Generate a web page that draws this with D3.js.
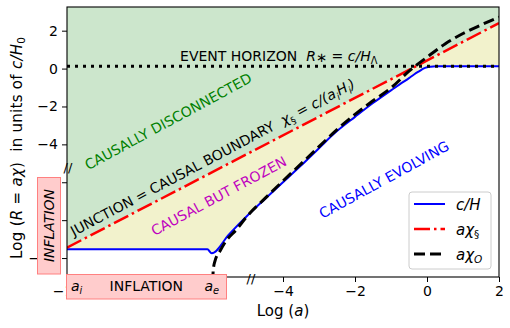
<!DOCTYPE html>
<html>
<head>
<meta charset="UTF-8">
<title>Causal horizons</title>
<script src="https://cdn.jsdelivr.net/npm/d3@7"></script>
<style>
  body { margin: 0; background: #fff; }
  svg text { font-family: "DejaVu Sans", sans-serif; }
</style>
</head>
<body>
<svg id="chart" width="510" height="328"></svg>
<script>
// c/H  (blue, solid)
var hubbleX = [-10, -6.1, -5.98, -5.5, -5.0, -4.5, -4.0, -3.5, -3.0, -2.5, -2.0, -1.5, -1.0, -0.75, -0.5, -0.35, -0.2, -0.1, 0.0, 0.1, 0.25, 0.5, 1.0, 2.0];
var hubbleY = [-9.54, -9.54, -9.75, -8.75, -7.78, -6.88, -6.0, -5.12, -4.2, -3.3, -2.55, -1.82, -1.15, -0.82, -0.5, -0.3, -0.12, 0.0, 0.07, 0.1, 0.12, 0.12, 0.12, 0.12];

// a chi_s  (red, dash-dot): junction = causal boundary
var junctionX = [-10, 2];
var junctionY = [-9.45, 2.4];

// a chi_O  (black, dashed)
var horizonX = [-5.95, -5.94, -5.89, -5.75, -5.61, -5.29, -5.0, -4.5, -4.0, -3.5, -3.0, -2.5, -2.0, -1.5, -1.0, -0.5, 0.0, 0.5, 1.0, 1.5, 2.0];
var horizonY = [-11.3, -10.68, -10.16, -9.63, -9.17, -8.49, -7.8, -6.85, -5.93, -5.03, -4.12, -3.22, -2.42, -1.7, -1.02, -0.14, 0.6, 1.3, 1.85, 2.3, 2.72];

// event horizon R* = c/H_Lambda
var eventHorizon = 0.12;

var xTicks = [-10, -8, -6, -4, -2, 0, 2];
var yTicks = [-10, -8, -6, -4, -2, 0, 2];
// labels that sit under the inflation boxes
var hiddenLabels = [-8, -6];

/// layout
var margin = {top: 7, left: 67},
    width = 432,
    height = 270;

var svg = d3.select("#chart");
var x = d3.scaleLinear().domain([-10, 2]).range([margin.left, margin.left + width]);
var y = d3.scaleLinear().domain([-11, 3.25]).range([margin.top + height, margin.top]);
var redAt = d3.scaleLinear().domain(junctionX).range(junctionY);

svg.append("clipPath").attr("id", "plotclip")
    .append("rect")
    .attr("x", margin.left).attr("y", margin.top)
    .attr("width", width).attr("height", height);

var plot = svg.append("g").attr("clip-path", "url(#plotclip)");

// fills
var hub = hubbleX.map(function(d, i) { return [d, hubbleY[i]]; });
var jun = junctionX.map(function(d, i) { return [d, junctionY[i]]; });
var hor = horizonX.map(function(d, i) { return [d, horizonY[i]]; });

plot.append("path")
    .datum(jun)
    .attr("fill", "#cce6cc")
    .attr("d", d3.area()
        .x(function(d) { return x(d[0]); })
        .y0(function(d) { return y(d[1]); })
        .y1(y(y.domain()[1])));

plot.append("path")
    .datum(hub)
    .attr("fill", "#f2f2cc")
    .attr("d", d3.area()
        .curve(d3.curveMonotoneX)
        .x(function(d) { return x(d[0]); })
        .y0(function(d) { return y(d[1]); })
        .y1(function(d) { return y(redAt(d[0])); }));

var line = d3.line()
    .curve(d3.curveMonotoneX)
    .x(function(d) { return x(d[0]); })
    .y(function(d) { return y(d[1]); });

plot.append("path").datum(hub)
    .attr("fill", "none").attr("stroke", "#0000ff").attr("stroke-width", 2)
    .attr("d", line);
plot.append("path").datum(jun)
    .attr("fill", "none").attr("stroke", "#ff0000").attr("stroke-width", 2.5)
    .attr("stroke-dasharray", "16,4,2.5,4")
    .attr("d", line);
plot.append("path").datum(hor)
    .attr("fill", "none").attr("stroke", "#000").attr("stroke-width", 3)
    .attr("stroke-dasharray", "11,5")
    .attr("d", line);
plot.append("path").datum([[-10, eventHorizon], [2, eventHorizon]])
    .attr("fill", "none").attr("stroke", "#000").attr("stroke-width", 3)
    .attr("stroke-dasharray", "3,5")
    .attr("d", line);

// axes
var fmt = function(d) { return hiddenLabels.indexOf(d) >= 0 ? "" : d3.format("")(d); };
var xAxis = svg.append("g")
    .attr("transform", "translate(0," + (margin.top + height) + ")")
    .call(d3.axisBottom(x).tickValues(xTicks).tickFormat(fmt).tickSize(5).tickPadding(4).tickSizeOuter(0));
var yAxis = svg.append("g")
    .attr("transform", "translate(" + margin.left + ",0)")
    .call(d3.axisLeft(y).tickValues(yTicks).tickFormat(fmt).tickSize(5).tickPadding(4).tickSizeOuter(0));
[xAxis, yAxis].forEach(function(a) {
    a.select(".domain").remove();
    a.selectAll("text").style("font-size", "14px").attr("fill", "#000");
    a.selectAll("line").attr("stroke", "#000");
});

svg.append("rect")
    .attr("x", margin.left).attr("y", margin.top)
    .attr("width", width).attr("height", height)
    .attr("fill", "none").attr("stroke", "#000").attr("stroke-width", 1.1);

// rich text helper: parts = [{t, it, sub, k}]
function rich(sel, parts, fs) {
    var shift = 0;
    parts.forEach(function(p) {
        var ts = sel.append("tspan").text(p.t);
        if (p.it) ts.style("font-style", "italic");
        var target = p.sub ? fs * (p.k ? 0.12 : 0.25) : 0;
        if (target !== shift) { ts.attr("dy", target - shift); shift = target; }
        if (p.sub) ts.style("font-size", (fs * (p.k || 0.7)) + "px");
    });
    return sel;
}

// axis labels
rich(svg.append("text")
    .attr("transform", "translate(21.5,148) rotate(-90)")
    .attr("text-anchor", "middle")
    .attr("textLength", 222).attr("lengthAdjust", "spacing")
    .style("font-size", "15px").style("white-space", "pre"),
    [{t: "Log ("}, {t: "R", it: 1}, {t: " = "}, {t: "a\u03c7", it: 1}, {t: ")  in units of "},
     {t: "c/H", it: 1}, {t: "0", sub: 1}], 15);

rich(svg.append("text")
    .attr("x", margin.left + width / 2).attr("y", 316)
    .attr("text-anchor", "middle")
    .style("font-size", "15px"),
    [{t: "Log ("}, {t: "a", it: 1}, {t: ")"}], 15);

// annotations
function note(px, py, angle, color, parts) {
    var t = svg.append("text")
        .attr("transform", "translate(" + x(px) + "," + y(py) + ") rotate(" + angle + ")")
        .attr("fill", color)
        .style("font-size", "14px").style("white-space", "pre");
    rich(t, parts, 14);
}

note(-6.86, 0.42, 0, "#000",
    [{t: "EVENT HORIZON  "}, {t: "R", it: 1}, {t: "\u2217", sub: 1, k: 0.95}, {t: " = "}, {t: "c/H", it: 1}, {t: "\u039b", sub: 1}]);
note(-9.41, -5.37, -28.4, "#008000", [{t: "CAUSALLY DISCONNECTED"}]);
note(-9.81, -8.86, -27.9, "#000",
    [{t: "JUNCTION = CAUSAL BOUNDARY  "}, {t: "\u03c7", it: 1}, {t: "\u00a7", sub: 1}, {t: " = "},
     {t: "c/(a", it: 1}, {t: "i", it: 1, sub: 1}, {t: "H", it: 1}, {t: "i", it: 1, sub: 1}, {t: ")", it: 1}]);
note(-7.57, -8.84, -28.2, "#bf00bf", [{t: "CAUSAL BUT FROZEN"}]);
note(-2.9, -7.93, -28.6, "#0000ff", [{t: "CAUSALLY EVOLVING"}]);

// axis break marks
svg.append("text").attr("x", 68).attr("y", 172).attr("text-anchor", "middle")
    .style("font-size", "13px").text("//");
svg.append("text").attr("x", 251).attr("y", 283).attr("text-anchor", "middle")
    .style("font-size", "13px").text("//");

// inflation boxes
svg.append("rect").attr("x", 37.5).attr("y", 177.5).attr("width", 23).attr("height", 96.5)
    .attr("fill", "#ffcccc").attr("stroke", "#ff8080");
svg.append("text")
    .attr("transform", "translate(54,225.5) rotate(-90)")
    .attr("text-anchor", "middle")
    .style("font-size", "14px").style("font-style", "italic")
    .text("INFLATION");

svg.append("rect").attr("x", 66.5).attr("y", 274.5).attr("width", 160).attr("height", 24.5)
    .attr("fill", "#ffcccc").attr("stroke", "#ff8080");
svg.append("text").attr("x", 146.3).attr("y", 290.5).attr("text-anchor", "middle")
    .style("font-size", "14px").text("INFLATION");
rich(svg.append("text").attr("x", 71).attr("y", 290.5).style("font-size", "14px"),
    [{t: "a", it: 1}, {t: "i", it: 1, sub: 1}], 14);
rich(svg.append("text").attr("x", 204.5).attr("y", 290.5).style("font-size", "14px"),
    [{t: "a", it: 1}, {t: "e", it: 1, sub: 1}], 14);

// legend
var legend = svg.append("g").attr("transform", "translate(409,192)");
legend.append("rect").attr("width", 82).attr("height", 77).attr("rx", 3)
    .attr("fill", "#fff").attr("fill-opacity", 0.8).attr("stroke", "#ccc");
var entries = [
    {color: "#0000ff", w: 2, dash: null, parts: [{t: "c/H", it: 1}]},
    {color: "#ff0000", w: 2.5, dash: "16,4,2.5,4", parts: [{t: "a\u03c7", it: 1}, {t: "\u00a7", sub: 1}]},
    {color: "#000", w: 3, dash: "11,5", parts: [{t: "a\u03c7", it: 1}, {t: "O", it: 1, sub: 1}]}
];
entries.forEach(function(e, i) {
    var cy = 12 + i * 25;
    legend.append("line").attr("x1", 5).attr("x2", 36).attr("y1", cy).attr("y2", cy)
        .attr("stroke", e.color).attr("stroke-width", e.w)
        .attr("stroke-dasharray", e.dash);
    rich(legend.append("text").attr("x", 47).attr("y", cy + 5.5).style("font-size", "15px"),
        e.parts, 15);
});
</script>
</body>
</html>
